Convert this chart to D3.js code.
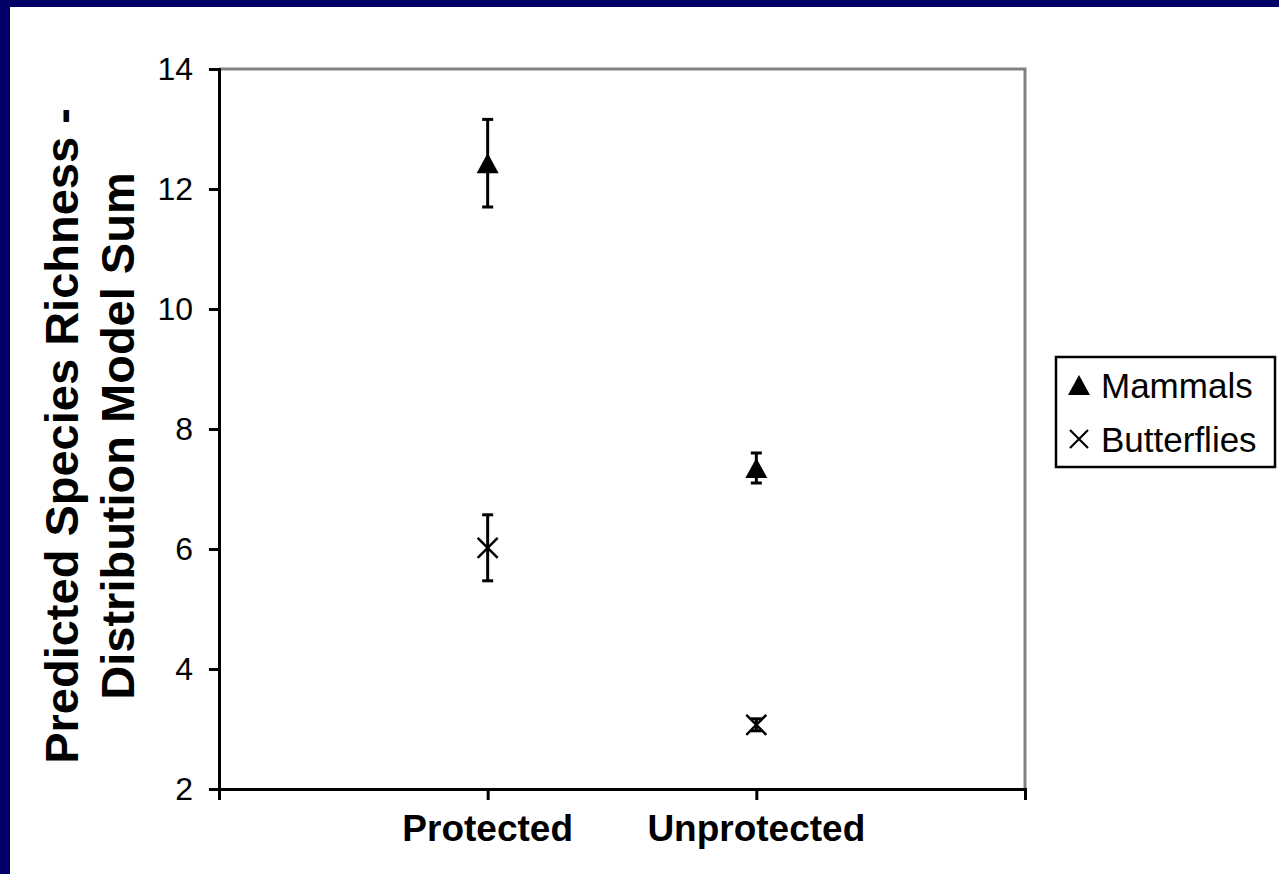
<!DOCTYPE html>
<html>
<head>
<meta charset="utf-8">
<script src="https://cdn.jsdelivr.net/npm/d3@7"></script>
<style>
  html, body { margin: 0; padding: 0; background: #ffffff; }
  svg { display: block; font-family: Arial, "Liberation Sans", Helvetica, sans-serif; }
</style>
</head>
<body>
<svg id="chart" width="1279" height="874"></svg>
<script>
// Category labels along the x axis
const categories = ["Protected", "Unprotected"];
// Mean predicted richness and error half-widths per category
const mammalsMean = [12.43, 7.35];
const mammalsErr = [0.73, 0.25];
const butterfliesMean = [6.02, 3.07];
const butterfliesErr = [0.55, 0.10];
// Y-axis ticks
const yTicks = [2, 4, 6, 8, 10, 12, 14];
const seriesNames = ["Mammals", "Butterflies"];

const svg = d3.select("#chart");
const W = 1279, H = 874;

// Slide frame: navy bands on top and left
svg.append("rect").attr("x", 0).attr("y", 0).attr("width", W).attr("height", H).attr("fill", "#ffffff");
svg.append("rect").attr("x", 0).attr("y", 0).attr("width", W).attr("height", 7).attr("fill", "#000066");
svg.append("rect").attr("x", 0).attr("y", 0).attr("width", 10).attr("height", H).attr("fill", "#000066");

const plot = { left: 219, right: 1025, top: 69, bottom: 789 };

const x = d3.scaleLinear().domain([0, categories.length + 1]).range([plot.left, plot.right]);
const y = d3.scaleLinear().domain([2, 14]).range([plot.bottom, plot.top]);

// Plot box: gray top and right edges
svg.append("path")
  .attr("d", `M${plot.left},${plot.top}H${plot.right}V${plot.bottom}`)
  .attr("fill", "none").attr("stroke", "#808080").attr("stroke-width", 3);

// Y axis
const yAxis = svg.append("g")
  .attr("transform", `translate(${plot.left},0)`)
  .call(d3.axisLeft(y).tickValues(yTicks).tickSize(10).tickPadding(16).tickFormat(d3.format("d")));
yAxis.select(".domain").attr("stroke", "#000").attr("stroke-width", 3);
yAxis.selectAll(".tick line").attr("stroke", "#000").attr("stroke-width", 3);
yAxis.selectAll(".tick text")
  .attr("fill", "#000").attr("font-size", 32).attr("font-family", "Arial, 'Liberation Sans', sans-serif");

// X axis: ticks at the boundaries, labels under the categories
const xAxis = svg.append("g")
  .attr("transform", `translate(0,${plot.bottom})`)
  .call(d3.axisBottom(x).tickValues(d3.range(categories.length + 2)).tickSize(11).tickFormat(""));
xAxis.select(".domain").attr("stroke", "#000").attr("stroke-width", 3);
xAxis.selectAll(".tick line").attr("stroke", "#000").attr("stroke-width", 3);

svg.append("g").selectAll("text")
  .data(categories)
  .join("text")
  .attr("x", (d, i) => x(i + 1))
  .attr("y", 841)
  .attr("text-anchor", "middle")
  .attr("font-size", 37)
  .attr("font-weight", "bold")
  .attr("fill", "#000")
  .text(d => d);

// Y axis title (two lines)
const titleLines = ["Predicted Species Richness -", "Distribution Model Sum"];
const titleX = [78, 134];
svg.append("g").selectAll("text")
  .data(titleLines)
  .join("text")
  .attr("transform", (d, i) => `translate(${titleX[i]},436) rotate(-90)`)
  .attr("text-anchor", "middle")
  .attr("font-size", 47)
  .attr("font-weight", "bold")
  .attr("fill", "#000")
  .text(d => d);

// Marker shapes
const triPath = (cx, cy, s) => `M${cx},${cy - s * 0.46}L${cx + s / 2},${cy + s * 0.46}L${cx - s / 2},${cy + s * 0.46}Z`;
const crossPath = (cx, cy, s) => `M${cx - s / 2},${cy - s / 2}L${cx + s / 2},${cy + s / 2}M${cx + s / 2},${cy - s / 2}L${cx - s / 2},${cy + s / 2}`;

function drawSeries(means, errs, kind) {
  const g = svg.append("g");
  means.forEach((m, i) => {
    const cx = x(i + 1);
    const hi = y(m + errs[i]), lo = y(m - errs[i]);
    g.append("line").attr("x1", cx).attr("x2", cx).attr("y1", hi).attr("y2", lo)
      .attr("stroke", "#000").attr("stroke-width", 3);
    [hi, lo].forEach(yy => {
      g.append("line").attr("x1", cx - 5.5).attr("x2", cx + 5.5).attr("y1", yy).attr("y2", yy)
        .attr("stroke", "#000").attr("stroke-width", 3);
    });
    if (kind === "tri") {
      g.append("path").attr("d", triPath(cx, y(m), 22)).attr("fill", "#000");
    } else {
      g.append("path").attr("d", crossPath(cx, y(m), 20)).attr("fill", "none")
        .attr("stroke", "#000").attr("stroke-width", 2.5);
    }
  });
}
drawSeries(mammalsMean, mammalsErr, "tri");
drawSeries(butterfliesMean, butterfliesErr, "cross");

// Legend
const leg = svg.append("g");
leg.append("rect").attr("x", 1056).attr("y", 357).attr("width", 219).attr("height", 110)
  .attr("fill", "#fff").attr("stroke", "#000").attr("stroke-width", 2.5);
const rowY = [385, 439];
seriesNames.forEach((name, i) => {
  if (i === 0) {
    leg.append("path").attr("d", triPath(1079, rowY[i], 22)).attr("fill", "#000");
  } else {
    leg.append("path").attr("d", crossPath(1079, rowY[i], 18)).attr("fill", "none")
      .attr("stroke", "#000").attr("stroke-width", 2.2);
  }
  leg.append("text").attr("x", 1101).attr("y", rowY[i]).attr("dy", "0.36em")
    .attr("font-size", 35).attr("fill", "#000").text(name);
});
</script>
</body>
</html>
